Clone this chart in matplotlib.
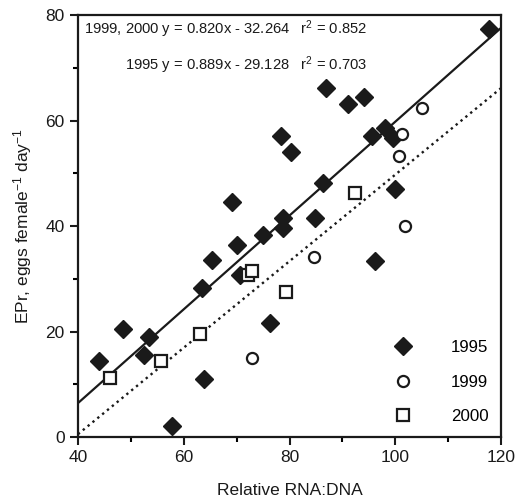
import numpy as np
import matplotlib
matplotlib.use("Agg")
import matplotlib.pyplot as plt

plt.rcParams["font.family"] = ["Liberation Sans", "DejaVu Sans"]
plt.rcParams["mathtext.default"] = "regular"

# 1995 samples (filled diamonds)
x_1995 = [44.0, 48.6, 52.5, 53.5, 57.8, 63.4, 63.8, 65.3, 69.1, 70.0, 70.6, 74.9, 76.4, 78.3,
          78.8, 78.8, 80.3, 84.9, 86.4, 86.9, 91.1, 94.1, 95.6, 96.1, 98.0, 99.6, 99.9, 117.7]
y_1995 = [14.4, 20.5, 15.5, 19.0, 2.1, 28.2, 11.0, 33.5, 44.5, 36.4, 30.8, 38.3, 21.6, 57.1,
          41.6, 39.7, 54.1, 41.6, 48.1, 66.1, 63.1, 64.5, 57.1, 33.3, 58.6, 56.6, 47.0, 77.3]

# 1999 samples (open circles)
x_1999 = [73.0, 84.6, 100.7, 101.2, 101.9, 105.0]
y_1999 = [15.0, 34.2, 53.2, 57.4, 40.0, 62.3]

# 2000 samples (open squares)
x_2000 = [46.0, 55.7, 63.0, 72.2, 73.0, 79.4, 92.4]
y_2000 = [11.1, 14.4, 19.5, 30.7, 31.4, 27.5, 46.2]

# regression lines: slope, intercept
fit_1995 = (0.889, -29.128)
fit_9900 = (0.820, -32.264)

fig = plt.figure(figsize=(5.22, 5.04), dpi=100)
ax = fig.add_axes([0.1494, 0.1329, 0.8104, 0.8373])

xl = np.array([40, 120])
ax.plot(xl, fit_1995[0] * xl + fit_1995[1], "-", color="#1a1a1a", lw=1.6, zorder=2)
ax.plot(xl, fit_9900[0] * xl + fit_9900[1], ":", color="#1a1a1a", lw=1.7, zorder=2)

ax.plot(x_1995, y_1995, "D", ms=9.5, mfc="#1a1a1a", mec="#1a1a1a", ls="none", label="1995", zorder=3)
ax.plot(x_1999, y_1999, "o", ms=8, mfc="white", mec="#1a1a1a", mew=1.6, ls="none", label="1999", zorder=4)
ax.plot(x_2000, y_2000, "s", ms=8.5, mfc="white", mec="#1a1a1a", mew=1.6, ls="none", label="2000", zorder=4)

ax.set_xlim(40, 120)
ax.set_ylim(0, 80)
ax.set_xticks([40, 60, 80, 100, 120])
ax.set_yticks([0, 20, 40, 60, 80])
ax.set_xticks(np.arange(50, 120, 20), minor=True)
ax.set_yticks(np.arange(10, 80, 20), minor=True)
ax.tick_params(which="major", direction="out", length=6, width=1.5, labelsize=12.5, colors="#1a1a1a")
ax.tick_params(which="minor", direction="out", length=3.5, width=1.5)
for s in ax.spines.values():
    s.set_linewidth(1.6)
    s.set_color("#1a1a1a")

ax.set_xlabel("Relative RNA:DNA", fontsize=12.5, labelpad=13, color="#1a1a1a")
ax.set_ylabel("EPr, eggs female$^{-1}$ day$^{-1}$", fontsize=12.5, labelpad=8, color="#1a1a1a")

ax.text(0.683, 0.967, "1999, 2000 y = 0.820x - 32.264   r$^2$ = 0.852",
        transform=ax.transAxes, ha="right", va="center", fontsize=10.6, color="#1a1a1a")
ax.text(0.683, 0.881, "1995 y = 0.889x - 29.128   r$^2$ = 0.703",
        transform=ax.transAxes, ha="right", va="center", fontsize=10.6, color="#1a1a1a")

ax.legend(loc="lower right", frameon=False, fontsize=12.2, handletextpad=1.8,
          labelspacing=1.15, borderaxespad=0.35, numpoints=1)

fig.savefig("out.png", dpi=100)
